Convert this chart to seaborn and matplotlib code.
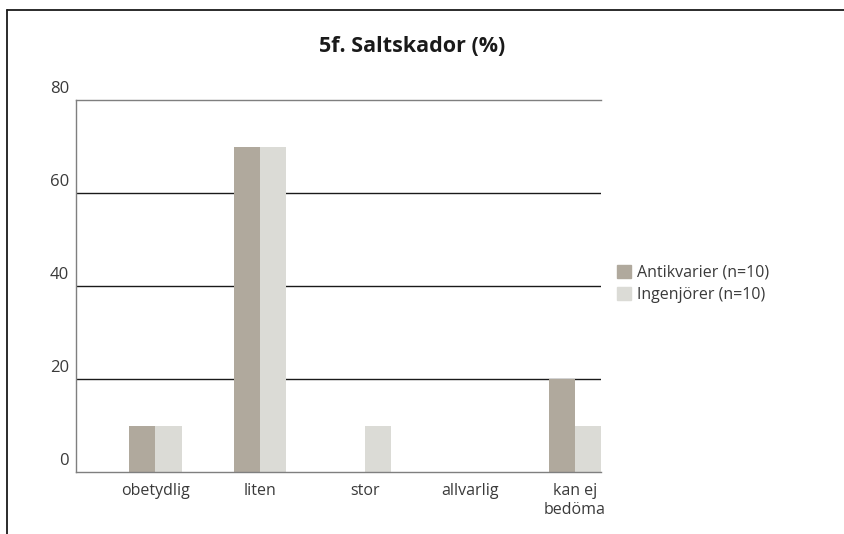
import pandas as pd
import seaborn as sns
import matplotlib.pyplot as plt
from matplotlib import transforms
from matplotlib.lines import Line2D

categories = ['obetydlig', 'liten', 'stor', 'allvarlig', 'kan ej\nbedöma']
antikvarier = [10, 70, 0, 0, 20]
ingenjorer = [10, 70, 10, 0, 10]
series_names = ['Antikvarier (n=10)', 'Ingenjörer (n=10)']
yticks = [0, 20, 40, 60, 80]

df = pd.DataFrame({'kategori': categories,
                   series_names[0]: antikvarier,
                   series_names[1]: ingenjorer})
df = df.melt(id_vars='kategori', var_name='grupp', value_name='procent')

sns.set_style('white')
plt.rcParams['font.family'] = ['Open Sans', 'DejaVu Sans']
text_col = '#3a3a3a'

fig = plt.figure(figsize=(8.44, 5.34), dpi=100)
ax = fig.add_axes([76/844, 1-472/534, 525/844, 372/534])

pal = {series_names[0]: '#b0a99d', series_names[1]: '#dbdbd6'}
sns.barplot(data=df, x='kategori', y='procent', hue='grupp', palette=pal,
            width=0.5, linewidth=0, saturation=1, ax=ax)

ax.set_ylim(0, 80)
ax.set_xlim(-0.757, 4.25)
ax.set_yticks(yticks)
ax.set_xlabel('')
ax.set_ylabel('')

#gridlines at 20-60, grey frame line at top
for y in yticks[1:-1]:
    ax.axhline(y, color='#1a1a1a', lw=1, zorder=0)
for side in ['left', 'bottom', 'top']:
    ax.spines[side].set_color('#7f7f7f')
    ax.spines[side].set_linewidth(1)
ax.spines['right'].set_visible(False)

ax.tick_params(axis='y', length=0, pad=5, labelsize=12, labelcolor=text_col)
ax.tick_params(axis='x', length=0, pad=8, labelsize=11.5, labelcolor=text_col)
offset = transforms.ScaledTranslation(0, 2/72, fig.dpi_scale_trans)
for lab in ax.get_yticklabels():
    lab.set_va('bottom')
    lab.set_transform(lab.get_transform() + offset)

ax.get_legend().remove()
handles = [plt.Rectangle((0, 0), 1, 1, color=pal[s]) for s in series_names]
fig.legend(handles, series_names, loc='center left',
           bbox_to_anchor=(603/844, 1-284/534), frameon=False,
           handlelength=0.85, handleheight=0.85, handletextpad=0.4,
           labelspacing=0.4, fontsize=11.5, labelcolor=text_col)

fig.text(412/844, 1-47/534, '5f. Saltskador (%)', ha='center', va='center',
         fontsize=15.5, fontweight='bold', color='#1a1a1a')

#outer frame (top and left only)
fig.add_artist(Line2D([7/844, 1], [1-10/534, 1-10/534], color='#1a1a1a', lw=1.3,
                      transform=fig.transFigure))
fig.add_artist(Line2D([7/844, 7/844], [0, 1-10/534], color='#1a1a1a', lw=1.3,
                      transform=fig.transFigure))

fig.savefig('out.png', dpi=100)
